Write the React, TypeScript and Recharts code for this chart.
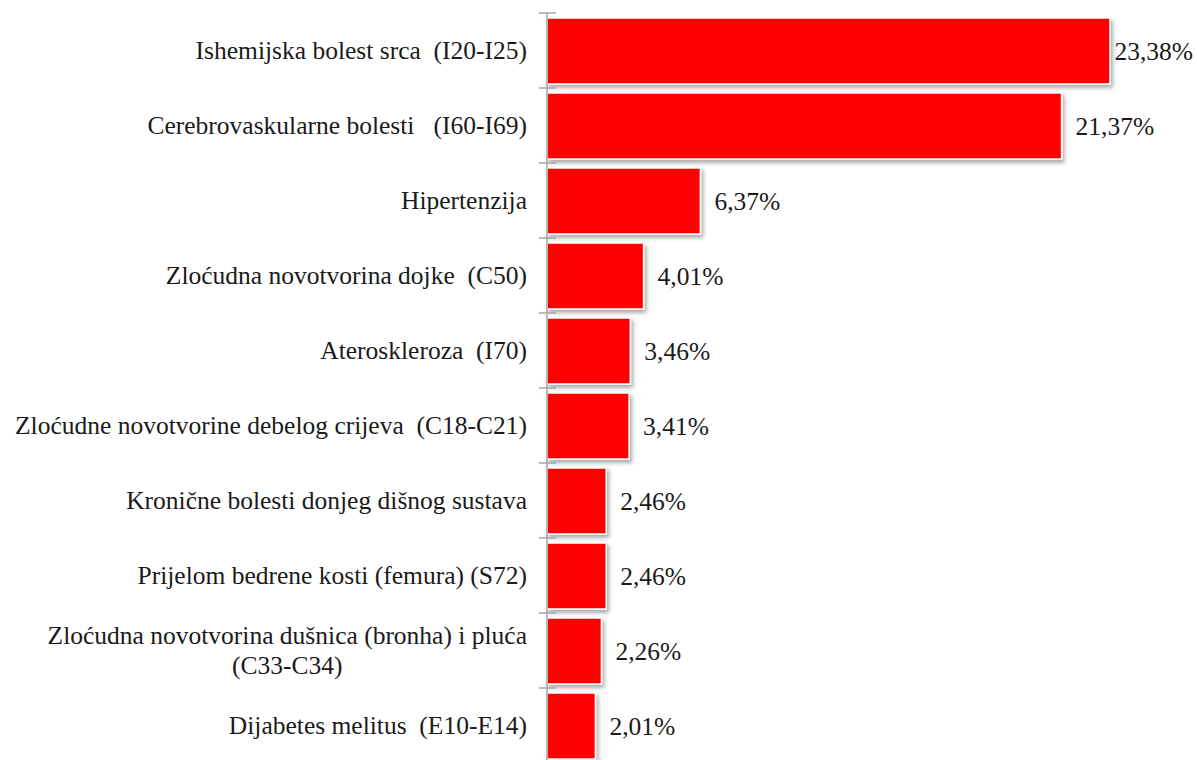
import { BarChart, Bar, XAxis, YAxis, LabelList } from 'recharts';

const categories = [
  'Ishemijska bolest srca  (I20-I25)',
  'Cerebrovaskularne bolesti   (I60-I69)',
  'Hipertenzija',
  'Zloćudna novotvorina dojke  (C50)',
  'Ateroskleroza  (I70)',
  'Zloćudne novotvorine debelog crijeva  (C18-C21)',
  'Kronične bolesti donjeg dišnog sustava',
  'Prijelom bedrene kosti (femura) (S72)',
  'Zloćudna novotvorina dušnica (bronha) i pluća\n(C33-C34)',
  'Dijabetes melitus  (E10-E14)',
];
const shares = [23.38, 21.37, 6.37, 4.01, 3.46, 3.41, 2.46, 2.46, 2.26, 2.01];
const xDomain = [0, 25];

const data = categories.map((name, i) => ({ name, value: shares[i] }));

const FONT = "'Liberation Serif', 'Times New Roman', serif";
const FONT_SIZE = 25.5;
const CHART_W = 1197;
const CHART_H = 763;
const MARGIN = { top: 13, right: 48, bottom: 0, left: 0 };
const BAND = (CHART_H - MARGIN.top - MARGIN.bottom) / categories.length;

let ctx: CanvasRenderingContext2D | null = null;
const measure = (s: string) => {
  if (!ctx) ctx = document.createElement('canvas').getContext('2d');
  if (!ctx) return s.length * FONT_SIZE * 0.45;
  ctx.font = `${FONT_SIZE}px 'Liberation Serif'`;
  return ctx.measureText(s).width;
};

const fmt = (v: number) => v.toFixed(2).replace('.', ',') + '%';

const CategoryTick = (props: any) => {
  const { x, y, payload, index } = props;
  const lines = String(payload.value).split('\n');
  const lineH = 30;
  const axisX = x + 20;
  const widths = lines.map(measure);
  const blockW = Math.max(...widths);
  return (
    <g>
      <line x1={axisX - 8} x2={axisX + 9} y1={y - BAND / 2} y2={y - BAND / 2} stroke="#a6a6a6" strokeWidth={1.5} />
      {index === categories.length - 1 && (
        <line x1={axisX - 8} x2={axisX + 9} y1={y + BAND / 2} y2={y + BAND / 2} stroke="#a6a6a6" strokeWidth={1.5} />
      )}
      {lines.map((ln, i) => (
        <text
          key={i}
          x={lines.length > 1 ? x - blockW / 2 : x}
          y={y + (i - (lines.length - 1) / 2) * lineH}
          dy="0.35em"
          textAnchor={lines.length > 1 ? 'middle' : 'end'}
          fontFamily={FONT}
          fontSize={FONT_SIZE}
          fill="#1a1a1a"
          style={{ whiteSpace: 'pre' }}
        >
          {ln}
        </text>
      ))}
    </g>
  );
};

const ValueLabel = (props: any) => {
  const { x, y, width, height, value } = props;
  const txt = fmt(Number(value));
  const w = measure(txt);
  const tx = Math.min(x + width + 14, CHART_W - 4 - w);
  return (
    <text x={tx} y={y + height / 2} dy="0.35em" fontFamily={FONT} fontSize={FONT_SIZE} fill="#1a1a1a">
      {txt}
    </text>
  );
};

const ShadowBar = (props: any) => {
  const { x, y, width, height } = props;
  return (
    <rect
      x={x}
      y={y}
      width={width}
      height={height}
      fill="#ff0000"
      stroke="#ffffff"
      strokeWidth={1.5}
      filter="url(#barShadow)"
    />
  );
};

export default function App() {
  return (
    <div style={{ position: 'absolute', left: 0, top: 0, width: CHART_W, height: 760, overflow: 'hidden', background: '#fff' }}>
      <BarChart
        width={CHART_W}
        height={CHART_H}
        data={data}
        layout="vertical"
        margin={MARGIN}
      >
        <defs>
          <filter id="barShadow" x="-10%" y="-20%" width="130%" height="150%">
            <feDropShadow dx="2" dy="3" stdDeviation="2" floodColor="#000" floodOpacity="0.35" />
          </filter>
        </defs>
        <XAxis type="number" hide domain={xDomain} />
        <YAxis
          type="category"
          dataKey="name"
          width={547}
          tickLine={false}
          tickSize={8}
          tickMargin={12}
          axisLine={{ stroke: '#a6a6a6', strokeWidth: 1.5 }}
          tick={<CategoryTick />}
          interval={0}
        />
        <Bar dataKey="value" barSize={66} shape={<ShadowBar />} isAnimationActive={false}>
          <LabelList dataKey="value" content={<ValueLabel />} />
        </Bar>
      </BarChart>
    </div>
  );
}
